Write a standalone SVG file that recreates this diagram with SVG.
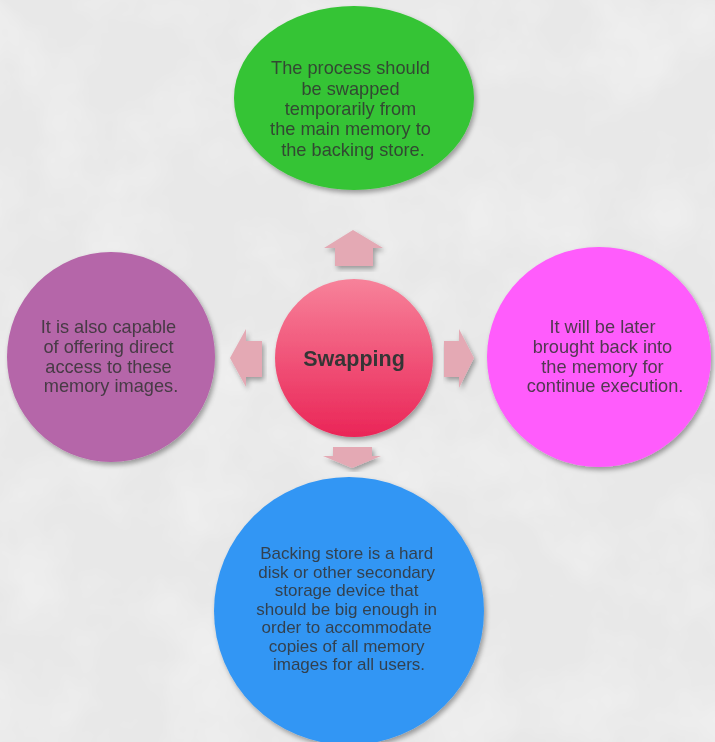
<svg xmlns="http://www.w3.org/2000/svg" width="715" height="742" viewBox="0 0 715 742">
  <defs>
    <filter id="paper" x="0" y="0" width="100%" height="100%">
      <feTurbulence type="fractalNoise" baseFrequency="0.012" numOctaves="4" seed="7" result="n"/>
      <feColorMatrix in="n" type="matrix" values="0 0 0 0 0.94  0 0 0 0 0.94  0 0 0 0 0.94  0 0 0 -0.9 0.55" result="tint"/>
      <feComposite in="tint" in2="SourceGraphic" operator="over"/>
    </filter>
    <filter id="shadow" x="-10%" y="-10%" width="125%" height="125%">
      <feGaussianBlur in="SourceAlpha" stdDeviation="2.5"/>
      <feOffset dx="2" dy="3" result="b"/>
      <feComponentTransfer><feFuncA type="linear" slope="0.35"/></feComponentTransfer>
      <feMerge><feMergeNode/><feMergeNode in="SourceGraphic"/></feMerge>
    </filter>
    <linearGradient id="hub" x1="0" y1="0" x2="0" y2="1">
      <stop offset="0" stop-color="#f7829a"/>
      <stop offset="1" stop-color="#ea2557"/>
    </linearGradient>
    <style>
      .txt { font-family: "Liberation Sans", Arial, sans-serif; font-size: 18.2px; fill: #333333; fill-opacity: 0.85; text-anchor: middle; }
      .small { font-size: 17px; }
      .hubtxt { font-family: "Liberation Sans", Arial, sans-serif; font-size: 21.5px; font-weight: bold; fill: #363636; text-anchor: middle; }
      .arrow { fill: #e4a9b4; filter: url(#shadow); }
    </style>
  </defs>

  <!-- paper background -->
  <rect width="715" height="742" fill="#e8e8e8"/>
  <rect width="715" height="742" fill="#e8e8e8" filter="url(#paper)"/>

  <!-- connectors: block arrows radiating from the hub -->
  <g id="connectors">
    <polygon class="arrow" points="353,230 383,248 373,248 373,266 335,266 335,248 324,248"/>
    <polygon class="arrow" points="230,358 246,329 246,341 262,341 262,377 246,377 246,387"/>
    <polygon class="arrow" points="474,358 459,329 459,341 444,341 444,377 459,377 459,388"/>
    <polygon class="arrow" points="352,468 381,456 372,456 372,447 333,447 333,456 323,456"/>
  </g>

  <g id="top" filter="url(#shadow)">
    <ellipse cx="354" cy="98" rx="120" ry="92" fill="#35c435"/>
    <text class="txt">
      <tspan x="353" y="74">The process should</tspan>
      <tspan x="353" y="94.5">be swapped</tspan>
      <tspan x="353" y="115">temporarily from</tspan>
      <tspan x="353" y="135">the main memory to</tspan>
      <tspan x="353" y="155.5">the backing store.</tspan>
    </text>
  </g>

  <g id="left" filter="url(#shadow)">
    <ellipse cx="111" cy="357" rx="104" ry="105" fill="#b566a9"/>
    <text class="txt">
      <tspan x="111" y="333">It is also capable</tspan>
      <tspan x="111" y="353">of offering direct</tspan>
      <tspan x="111" y="373">access to these</tspan>
      <tspan x="111" y="392">memory images.</tspan>
    </text>
  </g>

  <g id="right" filter="url(#shadow)">
    <ellipse cx="599" cy="357" rx="112" ry="110" fill="#ff5cfc"/>
    <text class="txt">
      <tspan x="605" y="333">It will be later</tspan>
      <tspan x="605" y="353">brought back into</tspan>
      <tspan x="605" y="373">the memory for</tspan>
      <tspan x="605" y="392">continue execution.</tspan>
    </text>
  </g>

  <g id="bottom" filter="url(#shadow)">
    <ellipse cx="349" cy="611" rx="135" ry="134" fill="#3396f4"/>
    <text class="txt small">
      <tspan x="349" y="559">Backing store is a hard</tspan>
      <tspan x="349" y="577.5">disk or other secondary</tspan>
      <tspan x="349" y="596">storage device that</tspan>
      <tspan x="349" y="614.5">should be big enough in</tspan>
      <tspan x="349" y="633">order to accommodate</tspan>
      <tspan x="349" y="651.5">copies of all memory</tspan>
      <tspan x="349" y="670">images for all users.</tspan>
    </text>
  </g>

  <g id="hub" filter="url(#shadow)">
    <circle cx="354" cy="358" r="79" fill="url(#hub)"/>
    <text class="hubtxt" x="354" y="366">Swapping</text>
  </g>
</svg>
